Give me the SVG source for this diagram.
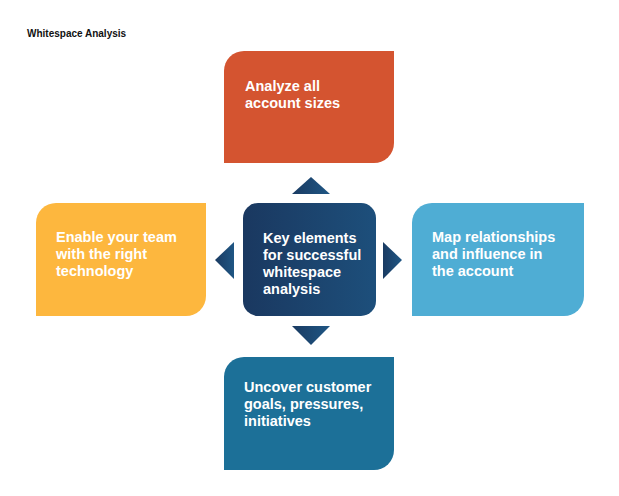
<svg xmlns="http://www.w3.org/2000/svg" width="619" height="496" viewBox="0 0 619 496">
<defs>
<linearGradient id="gc" x1="0" y1="0" x2="1" y2="0">
<stop offset="0" stop-color="#1A3860"/>
<stop offset="1" stop-color="#1D4F7B"/>
</linearGradient>
<linearGradient id="gt" x1="0" y1="0" x2="1" y2="0">
<stop offset="0" stop-color="#1A3B62"/>
<stop offset="1" stop-color="#1F5684"/>
</linearGradient>
</defs>
<style>
.t{font-family:"Liberation Sans",Arial,sans-serif;font-weight:700;font-size:14.5px;fill:#ffffff}
.title{font-family:"Liberation Sans",Arial,sans-serif;font-weight:700;font-size:10px;fill:#111111}
</style>
<rect width="619" height="496" fill="#ffffff"/>
<text class="title" x="27" y="37">Whitespace Analysis</text>
<g id="connectors">
<polygon points="311,177 330,194 292,194" fill="url(#gt)"/>
<polygon points="311,345 330,326 292,326" fill="url(#gt)"/>
<polygon points="215,260 234,242 234,279" fill="url(#gt)"/>
<polygon points="402,260 383,242 383,279" fill="url(#gt)"/>
</g>
<g id="top">
<path d="M244,51 H394 V143 A20,20 0 0 1 374,163 H224 V71 A20,20 0 0 1 244,51 Z" fill="#D45430"/>
<text class="t"><tspan x="245" y="91">Analyze all</tspan><tspan x="245" y="108">account sizes</tspan></text>
</g>
<g id="left">
<path d="M56,203 H206 V296 A20,20 0 0 1 186,316 H36 V223 A20,20 0 0 1 56,203 Z" fill="#FDB73E"/>
<text class="t"><tspan x="56" y="242">Enable your team</tspan><tspan x="56" y="259">with the right</tspan><tspan x="56" y="276">technology</tspan></text>
</g>
<g id="center">
<rect x="243" y="203" width="133" height="113" rx="15" fill="url(#gc)"/>
<text class="t"><tspan x="263" y="243">Key elements</tspan><tspan x="263" y="260">for successful</tspan><tspan x="263" y="277">whitespace</tspan><tspan x="263" y="294">analysis</tspan></text>
</g>
<g id="right">
<path d="M432,203 H584 V296 A20,20 0 0 1 564,316 H412 V223 A20,20 0 0 1 432,203 Z" fill="#4FADD4"/>
<text class="t"><tspan x="432" y="242">Map relationships</tspan><tspan x="432" y="259">and influence in</tspan><tspan x="432" y="276">the account</tspan></text>
</g>
<g id="bottom">
<path d="M244,357 H394 V450 A20,20 0 0 1 374,470 H224 V377 A20,20 0 0 1 244,357 Z" fill="#1C7098"/>
<text class="t"><tspan x="244" y="392">Uncover customer</tspan><tspan x="244" y="409">goals, pressures,</tspan><tspan x="244" y="426">initiatives</tspan></text>
</g>
</svg>
